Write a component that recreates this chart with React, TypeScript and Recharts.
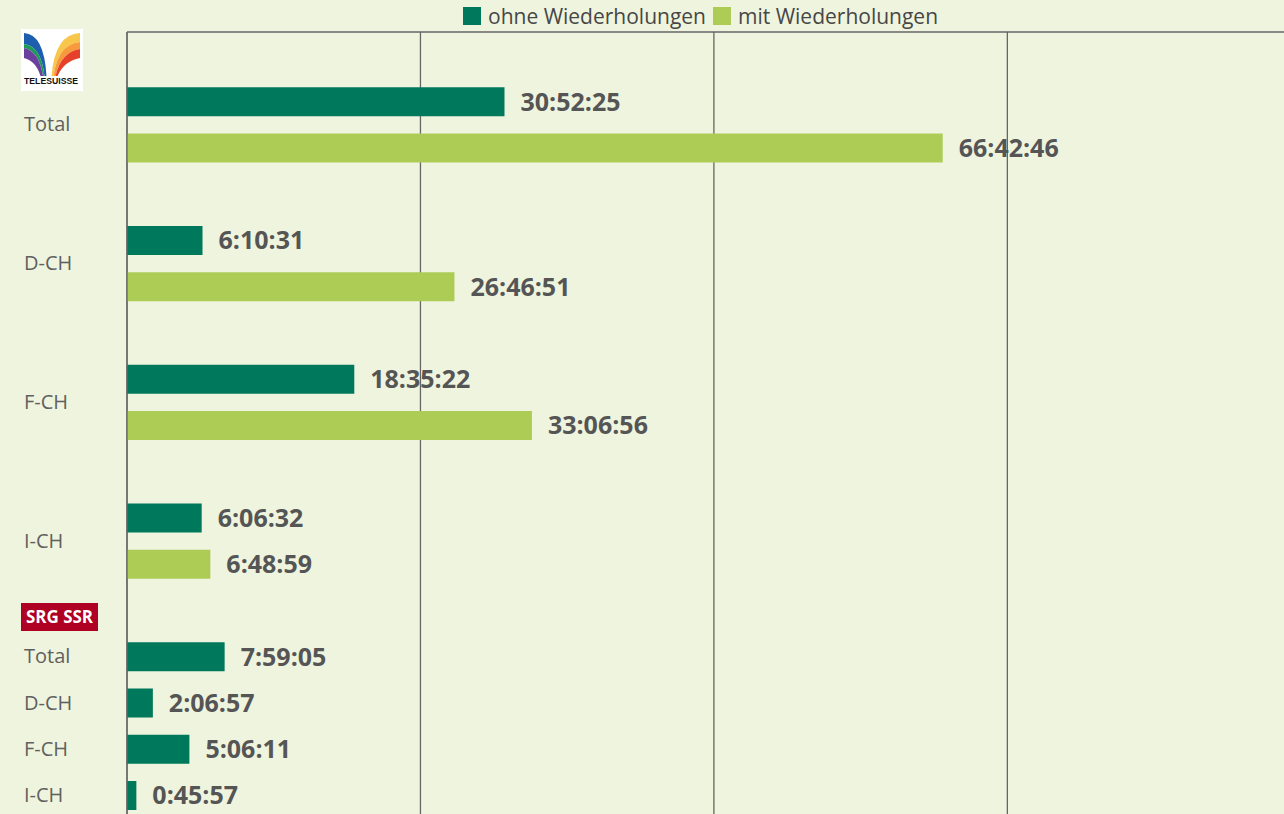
import React from "react";
import {
  BarChart,
  Bar,
  XAxis,
  YAxis,
  CartesianGrid,
  Legend,
  LabelList,
} from "recharts";

// one row per bar slot, top to bottom (empty rows hold the logos / gaps)
const rowLabels = ["", "Total", "", "", "D-CH", "", "", "F-CH", "", "", "I-CH", "", "", "Total", "D-CH", "F-CH", "I-CH"];
// rows whose label sits between the two bars of a pair
const pairedRows = [1, 4, 7, 10];

const ohneWiederholungen = [null, "30:52:25", null, null, "6:10:31", null, null, "18:35:22", null, null, "6:06:32", null, null, "7:59:05", "2:06:57", "5:06:11", "0:45:57"];
const mitWiederholungen = [null, null, "66:42:46", null, null, "26:46:51", null, null, "33:06:56", null, null, "6:48:59", null, null, null, null, null];

const seriesNames = ["ohne Wiederholungen", "mit Wiederholungen"];
const hourTicks = [0, 24, 48, 72, 96];
const hourMax = 96;

const DARK = "#00785b";
const LIGHT = "#adcc55";
const BG = "#eff4de";
const GRID = "#666";
const FONT = "'Open Sans', sans-serif";

const toHours = (t: string | null) => {
  if (!t) return null;
  const [h, m, s] = t.split(":").map(Number);
  return h + m / 60 + s / 3600;
};

const data = rowLabels.map((label, i) => ({
  row: "r" + i,
  label,
  ohne: toHours(ohneWiederholungen[i]),
  mit: toHours(mitWiederholungen[i]),
  ohneText: ohneWiederholungen[i] ?? undefined,
  mitText: mitWiederholungen[i] ?? undefined,
}));

function RowTick(props: any) {
  const { y, payload } = props;
  const i = data.findIndex((d) => d.row === payload.value);
  if (i < 0 || !rowLabels[i]) return null;
  const shift = pairedRows.includes(i) ? 23 : 0;
  return (
    <text x={24} y={y + shift} dy="0.35em" fill="#606060" fontSize={20} fontFamily={FONT}>
      {rowLabels[i]}
    </text>
  );
}

function renderLegend(props: any) {
  const items = [...(props.payload || [])].sort(
    (a: any, b: any) => seriesNames.indexOf(a.value) - seriesNames.indexOf(b.value)
  );
  return (
    <div style={{ display: "flex", alignItems: "center", height: 32, paddingLeft: 463, fontFamily: FONT }}>
      {items.map((it: any) => (
        <div key={it.value} style={{ display: "flex", alignItems: "center", marginRight: 7 }}>
          <span style={{ width: 18, height: 18, background: it.color, display: "inline-block", marginRight: 7 }} />
          <span style={{ fontSize: 21, color: "#474747" }}>{it.value}</span>
        </div>
      ))}
    </div>
  );
}

// vertical grid positions at the hour ticks
const gridX = (p: any) => {
  const sc = p?.xAxis?.scale;
  if (typeof sc === "function") return hourTicks.map((t) => sc(t));
  if (sc && typeof sc.map === "function") return hourTicks.map((t) => sc.map(t));
  const o = p.offset;
  return hourTicks.map((t) => o.left + (t / hourMax) * o.width);
};

const band = (a: number[], b: number[]) =>
  `M${a[0]} ${a[1]} Q${a[2]} ${a[3]} ${a[4]} ${a[5]} L${b[4]} ${b[5]} Q${b[2]} ${b[3]} ${b[0]} ${b[1]} Z`;

function TelesuisseLogo() {
  // left fan: outer -> inner boundaries
  const L = [
    [3, 4, 23, 5, 25.5, 47],
    [3, 15, 20, 17, 23.5, 47],
    [3, 19, 18, 22, 22, 47],
    [3, 29, 15, 32, 19.5, 47],
  ];
  const R = [
    [59, 4, 34, 5, 30.5, 47],
    [59, 13, 37, 15, 32.5, 47],
    [59, 20, 40, 23, 34.5, 47],
    [59, 29, 43, 32, 36.5, 47],
  ];
  return (
    <svg width={62} height={62} style={{ position: "absolute", left: 21, top: 29 }}>
      <rect width={62} height={62} fill="#fff" />
      <path d={band(L[0], L[1])} fill="#1d5fae" />
      <path d={band(L[1], L[2])} fill="#1f9a57" />
      <path d={band(L[2], L[3])} fill="#6b3f9e" />
      <path d={band(R[0], R[1])} fill="#f8c64a" />
      <path d={band(R[1], R[2])} fill="#f69a3b" />
      <path d={band(R[2], R[3])} fill="#e6402b" />
      <text x={30} y={54.5} textAnchor="middle" fontSize={8.2} fontWeight={700} fontFamily="'Liberation Sans', Arial, sans-serif" textLength={54} lengthAdjust="spacingAndGlyphs" fill="#111">
        TELESUISSE
      </text>
    </svg>
  );
}

function SrgLogo() {
  return (
    <svg width={77} height={28} style={{ position: "absolute", left: 21, top: 603 }}>
      <rect width={77} height={28} fill="#af0024" />
      <text x={38.5} y={20} textAnchor="middle" fontSize={17} fontWeight={700} fontFamily={FONT} textLength={67} lengthAdjust="spacingAndGlyphs" fill="#fff">
        SRG SSR
      </text>
    </svg>
  );
}

export default function App() {
  const labelStyle = { fill: "#555555", fontSize: 25, fontWeight: 700, fontFamily: FONT };
  return (
    <div style={{ position: "absolute", left: 0, top: 0, width: 1284, height: 814, overflow: "hidden", background: BG }}>
      <BarChart
        width={1320}
        height={830}
        data={data}
        layout="vertical"
        margin={{ top: 0, right: 19.2, left: 0, bottom: 11.75 }}
      >
        <Legend verticalAlign="top" height={32} content={renderLegend} />
        <CartesianGrid
          stroke={GRID}
          strokeWidth={1.3}
          verticalCoordinatesGenerator={gridX}
          horizontalCoordinatesGenerator={(p: any) => [p.offset.top]}
        />
        <XAxis type="number" domain={[0, hourMax]} ticks={hourTicks} hide />
        <YAxis
          type="category"
          dataKey="row"
          width={127}
          tick={<RowTick />}
          tickLine={false}
          axisLine={{ stroke: GRID, strokeWidth: 1.3 }}
          interval={0}
        />
        <Bar dataKey="ohne" name={seriesNames[0]} stackId="a" fill={DARK} barSize={29} isAnimationActive={false}>
          <LabelList dataKey="ohneText" position="right" offset={16} {...labelStyle} />
        </Bar>
        <Bar dataKey="mit" name={seriesNames[1]} stackId="a" fill={LIGHT} barSize={29} isAnimationActive={false}>
          <LabelList dataKey="mitText" position="right" offset={16} {...labelStyle} />
        </Bar>
      </BarChart>
      <TelesuisseLogo />
      <SrgLogo />
    </div>
  );
}
